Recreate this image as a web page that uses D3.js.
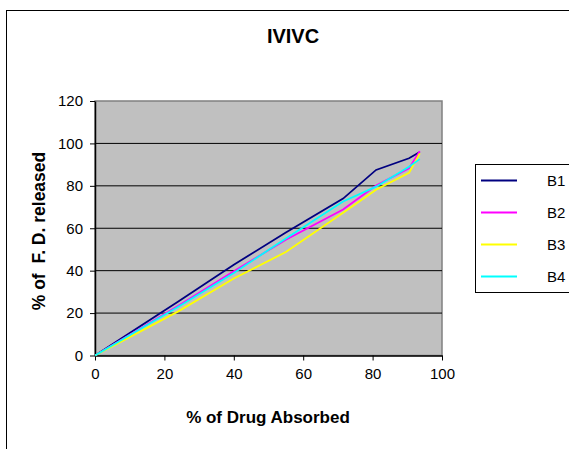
<!DOCTYPE html>
<html><head><meta charset="utf-8">
<script src="https://cdn.jsdelivr.net/npm/d3@7/dist/d3.min.js"></script>
<style>
body{margin:0;background:#fff;}
svg{display:block;font-family:"Liberation Sans",Arial,sans-serif;}
</style></head>
<body><svg id="c" width="569" height="449"></svg>
<script>
const absorbed = [0, 24, 40, 55, 71.5, 81, 90.5, 93.6];
const seriesNames = ["B1", "B2", "B3", "B4"];
const B1 = [0, 25.5, 42.8, 58, 74, 87.5, 93, 96];
const B2 = [0, 23.5, 39.7, 54.6, 68.8, 80.2, 88.3, 96.3];
const B3 = [0, 20.8, 36.3, 48.8, 67.3, 78.2, 86.1, 95.3];
const B4 = [0, 23, 38.9, 55.2, 72.6, 79.6, 89, 92.6];
const colors = ["#000080", "#FF00FF", "#FFFF00", "#00FFFF"];
const xTicks = [0, 20, 40, 60, 80, 100];
const yTicks = [0, 20, 40, 60, 80, 100, 120];

const svg = d3.select("#c");
const L = 95, R = 442, T = 101, B = 355.5;
const x = d3.scaleLinear().domain([0, 100]).range([L, R]);
const y = d3.scaleLinear().domain([0, 120]).range([B, T]);

// outer chart border
svg.append("rect").attr("x", 6.5).attr("y", 10.5).attr("width", 600).attr("height", 500)
  .attr("fill", "#fff").attr("stroke", "#000").attr("stroke-width", 1);

// plot area
svg.append("rect").attr("x", L).attr("y", T).attr("width", R - L).attr("height", B - T)
  .attr("fill", "#C0C0C0").attr("stroke", "#808080").attr("stroke-width", 1.5);

// gridlines
svg.append("g").selectAll("line").data(yTicks.filter(d => d > 0 && d < 120)).join("line")
  .attr("x1", L).attr("x2", R).attr("y1", d => y(d)).attr("y2", d => y(d))
  .attr("stroke", "#000").attr("stroke-width", 1);

// axes
const xAxis = d3.axisBottom(x).tickValues(xTicks).tickSize(5).tickSizeOuter(0).tickPadding(8);
const yAxis = d3.axisLeft(y).tickValues(yTicks).tickSize(5).tickSizeOuter(0).tickPadding(7);
const gx = svg.append("g").attr("transform", `translate(0,${B})`).call(xAxis);
const gy = svg.append("g").attr("transform", `translate(${L},0)`).call(yAxis);
[gx, gy].forEach(g => {
  g.select(".domain").attr("stroke", "#000").attr("stroke-width", 1.5);
  g.selectAll(".tick line").attr("stroke", "#000").attr("stroke-width", 1);
  g.selectAll(".tick text").attr("font-size", 15).attr("fill", "#000")
    .attr("font-family", "'Liberation Sans', Arial, sans-serif");
});

// lines
const allSeries = [B1, B2, B3, B4];
const line = d3.line().x((d, i) => x(absorbed[i])).y(d => y(d));
allSeries.forEach((s, k) => {
  svg.append("path").datum(s).attr("d", line).attr("fill", "none")
    .attr("stroke", colors[k]).attr("stroke-width", 1.8).attr("stroke-linejoin", "miter");
});

// title
svg.append("text").attr("x", 293).attr("y", 43).attr("text-anchor", "middle")
  .attr("font-size", 20).attr("font-weight", "bold").text("IVIVC");

// axis titles
svg.append("text").attr("x", 268).attr("y", 423).attr("text-anchor", "middle")
  .attr("font-size", 17).attr("font-weight", "bold").text("% of Drug Absorbed");
svg.append("text").attr("transform", "translate(45,231) rotate(-90)").attr("text-anchor", "middle")
  .attr("font-size", 17.5).attr("font-weight", "bold").style("white-space", "pre")
  .text("% of  F. D. released");

// legend
const lg = svg.append("g");
lg.append("rect").attr("x", 475.5).attr("y", 164.5).attr("width", 120).attr("height", 128)
  .attr("fill", "#fff").attr("stroke", "#000").attr("stroke-width", 1);
const ly = [180.5, 212.5, 244.5, 276.5];
seriesNames.forEach((n, k) => {
  lg.append("line").attr("x1", 481).attr("x2", 517).attr("y1", ly[k]).attr("y2", ly[k])
    .attr("stroke", colors[k]).attr("stroke-width", 2);
  lg.append("text").attr("x", 547).attr("y", ly[k]).attr("dy", "0.35em")
    .attr("font-size", 15).text(n);
});
</script></body></html>
